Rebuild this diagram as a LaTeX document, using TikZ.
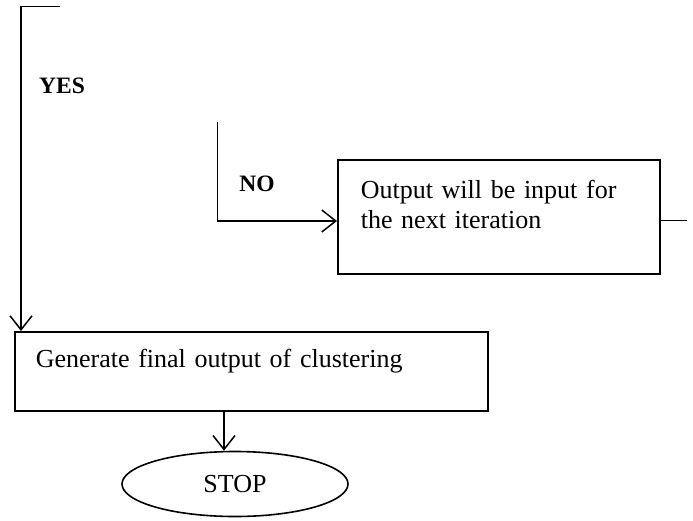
\documentclass[tikz,border=0pt]{standalone}
\usepackage{fontspec}
\setmainfont{Liberation Serif}
\usetikzlibrary{arrows.meta,shapes.geometric}
\tikzset{
	caixa/.style={draw, line width=1.6pt, rectangle, anchor=north west, align=left, inner ysep=0pt, font=\fontsize{26}{30}\selectfont},
	seta/.style={line width=1.5pt, -{Straight Barb[length=14pt,width=22pt,line width=1.5pt]}},
	fio/.style={line width=1pt},
	rotulo/.style={font=\fontsize{23.5}{28}\selectfont\bfseries, inner sep=0pt}
}
\begin{document}
\begin{tikzpicture}[x=1pt, y=-1pt] %Início do desenho, unidades em pixels
	\useasboundingbox (0,0) rectangle (693,520); %Tamanho da figura
		%Caixas
	\node[caixa, text width=276pt, inner xsep=23pt, text height=39pt, text depth=75pt] (iter) at (337,159) {Output will be input for\\the next iteration}; %Caixa da iteração
	\node[caixa, text width=431pt, inner xsep=21pt, text height=36pt, text depth=43pt] (gen) at (14,331) {Generate final output of clustering}; %Caixa da saída final
	\node[draw, ellipse, line width=1.6pt, minimum width=226pt, minimum height=65pt, inner sep=0pt, font=\fontsize{26}{30}\selectfont] (stop) at (235,484) {STOP}; %Fim
		%Rótulos
	\node[rotulo] (yes) at (62,86) {YES};
	\node[rotulo] (no) at (257,184) {NO};
		%Pontos livres
	\coordinate (yesend) at (60,6);
	\coordinate (yescorner) at (21,6);
	\coordinate (notop) at (217,122);
	\coordinate (nocorner) at (217,221);
	\coordinate (loopend) at (687,220);
		%Ligações
	\draw[fio] (yesend) -- (yescorner); %Ramo YES
	\draw[seta] (yescorner) -- (yescorner |- gen.north);
	\draw[fio] (notop) -- (nocorner); %Ramo NO
	\draw[seta] (nocorner) -- (nocorner -| iter.west);
	\draw[fio] (loopend -| iter.east) -- (loopend); %Saída para a próxima iteração
	\draw[seta] ([xshift=-11pt]stop.north |- gen.south) -- ([xshift=-11pt]stop.north); %Para o fim
\end{tikzpicture}
\end{document}
